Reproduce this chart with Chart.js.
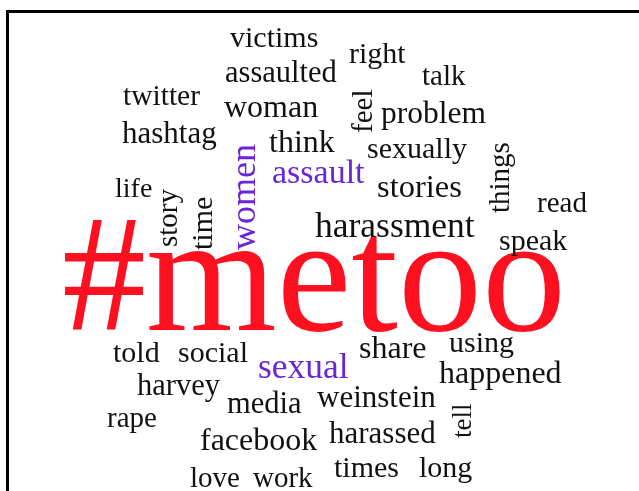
<!DOCTYPE html>
<html>
<head>
<meta charset="utf-8">
<script src="https://cdn.jsdelivr.net/npm/chart.js@4.4.0/dist/chart.umd.min.js"></script>
<style>
  html, body { margin: 0; padding: 0; background: #fff; }
  #wrap { width: 639px; height: 491px; }
</style>
</head>
<body>
<div id="wrap"><canvas id="nuvem" width="639" height="491"></canvas></div>
<script>
// === Dados da nuvem de palavras ===
const palavras = ["#metoo", "women", "assault", "sexual", "harassment",
  "victims", "assaulted", "right", "talk", "twitter", "woman", "feel", "problem",
  "hashtag", "think", "sexually", "things", "life", "story", "time", "stories", "read",
  "speak", "told", "social", "share", "using", "harvey", "happened", "media",
  "weinstein", "rape", "tell", "facebook", "harassed", "love", "work", "times", "long"];
// peso (tamanho relativo) de cada palavra
const pesos = [168, 36, 34, 35.5, 35.5,
  30, 30.5, 30, 29, 29.5, 32, 29, 31.5,
  31, 32, 30, 29, 28, 29, 30, 32.5, 29,
  30, 30, 30, 32, 30, 30.5, 32, 30.5,
  31, 29, 27, 32, 31, 29, 29, 30, 30];
// grupo de cor: 0 = destaque, 1 = frequentes, 2 = demais
const grupos = [0, 1, 1, 1, 2,
  2, 2, 2, 2, 2, 2, 2, 2,
  2, 2, 2, 2, 2, 2, 2, 2, 2,
  2, 2, 2, 2, 2, 2, 2, 2,
  2, 2, 2, 2, 2, 2, 2, 2, 2];
// posição na nuvem (início da palavra, linha de base)
const posX = [62, 255, 272, 258, 315,
  230, 225, 349, 422, 123, 224, 372, 381,
  122, 269, 367, 509, 115, 177, 212, 377, 537,
  499, 113, 178, 359, 449, 137, 439, 227,
  317, 107, 471, 200, 329, 190, 253, 334, 419];
const posY = [330, 250, 183, 378, 237,
  47, 82, 63, 85, 105, 117, 133, 123,
  143, 152, 158, 213, 197, 247, 250, 197, 212,
  250, 362, 362, 358, 352, 395, 383, 413,
  407, 427, 438, 450, 443, 487, 487, 477, 477];
// 1 = vertical
const vertical = [0, 1, 0, 0, 0,
  0, 0, 0, 0, 0, 0, 1, 0,
  0, 0, 0, 1, 0, 1, 1, 0, 0,
  0, 0, 0, 0, 0, 0, 0, 0,
  0, 0, 1, 0, 0, 0, 0, 0, 0];

const cores = ["#ff1020", "#6a26d6", "#111111"];

// === Plugin que escreve as palavras ===
const pluginPalavras = {
  id: "palavras",
  beforeDraw(chart) {
    const c = chart.ctx;
    c.save();
    c.fillStyle = "#fff";
    c.fillRect(0, 0, chart.width, chart.height);
    // moldura
    c.strokeStyle = "#000";
    c.lineWidth = 3;
    c.beginPath();
    c.moveTo(7.5, chart.height + 5);
    c.lineTo(7.5, 11.5);
    c.lineTo(chart.width + 5, 11.5);
    c.stroke();
    c.restore();
  },
  afterDatasetsDraw(chart) {
    const c = chart.ctx;
    const meta = chart.getDatasetMeta(0);
    c.save();
    c.textAlign = "left";
    c.textBaseline = "alphabetic";
    meta.data.forEach((pt, i) => {
      c.save();
      c.font = pesos[i] + "px 'Liberation Serif', 'DejaVu Serif', serif";
      c.fillStyle = cores[grupos[i]];
      c.translate(pt.x, pt.y);
      if (vertical[i]) c.rotate(-Math.PI / 2);
      c.fillText(palavras[i], 0, 0);
      c.restore();
    });
    c.restore();
  }
};

new Chart(document.getElementById("nuvem"), {
  type: "scatter",
  data: {
    datasets: [{
      data: palavras.map((p, i) => ({ x: posX[i], y: posY[i] })),
      pointRadius: 0,
      pointHoverRadius: 0
    }]
  },
  options: {
    responsive: false,
    animation: false,
    layout: { padding: 0 },
    plugins: { legend: { display: false }, tooltip: { enabled: false } },
    scales: {
      x: { type: "linear", min: 0, max: 639, display: false },
      y: { type: "linear", min: 0, max: 491, reverse: true, display: false }
    }
  },
  plugins: [pluginPalavras]
});
</script>
</body>
</html>
